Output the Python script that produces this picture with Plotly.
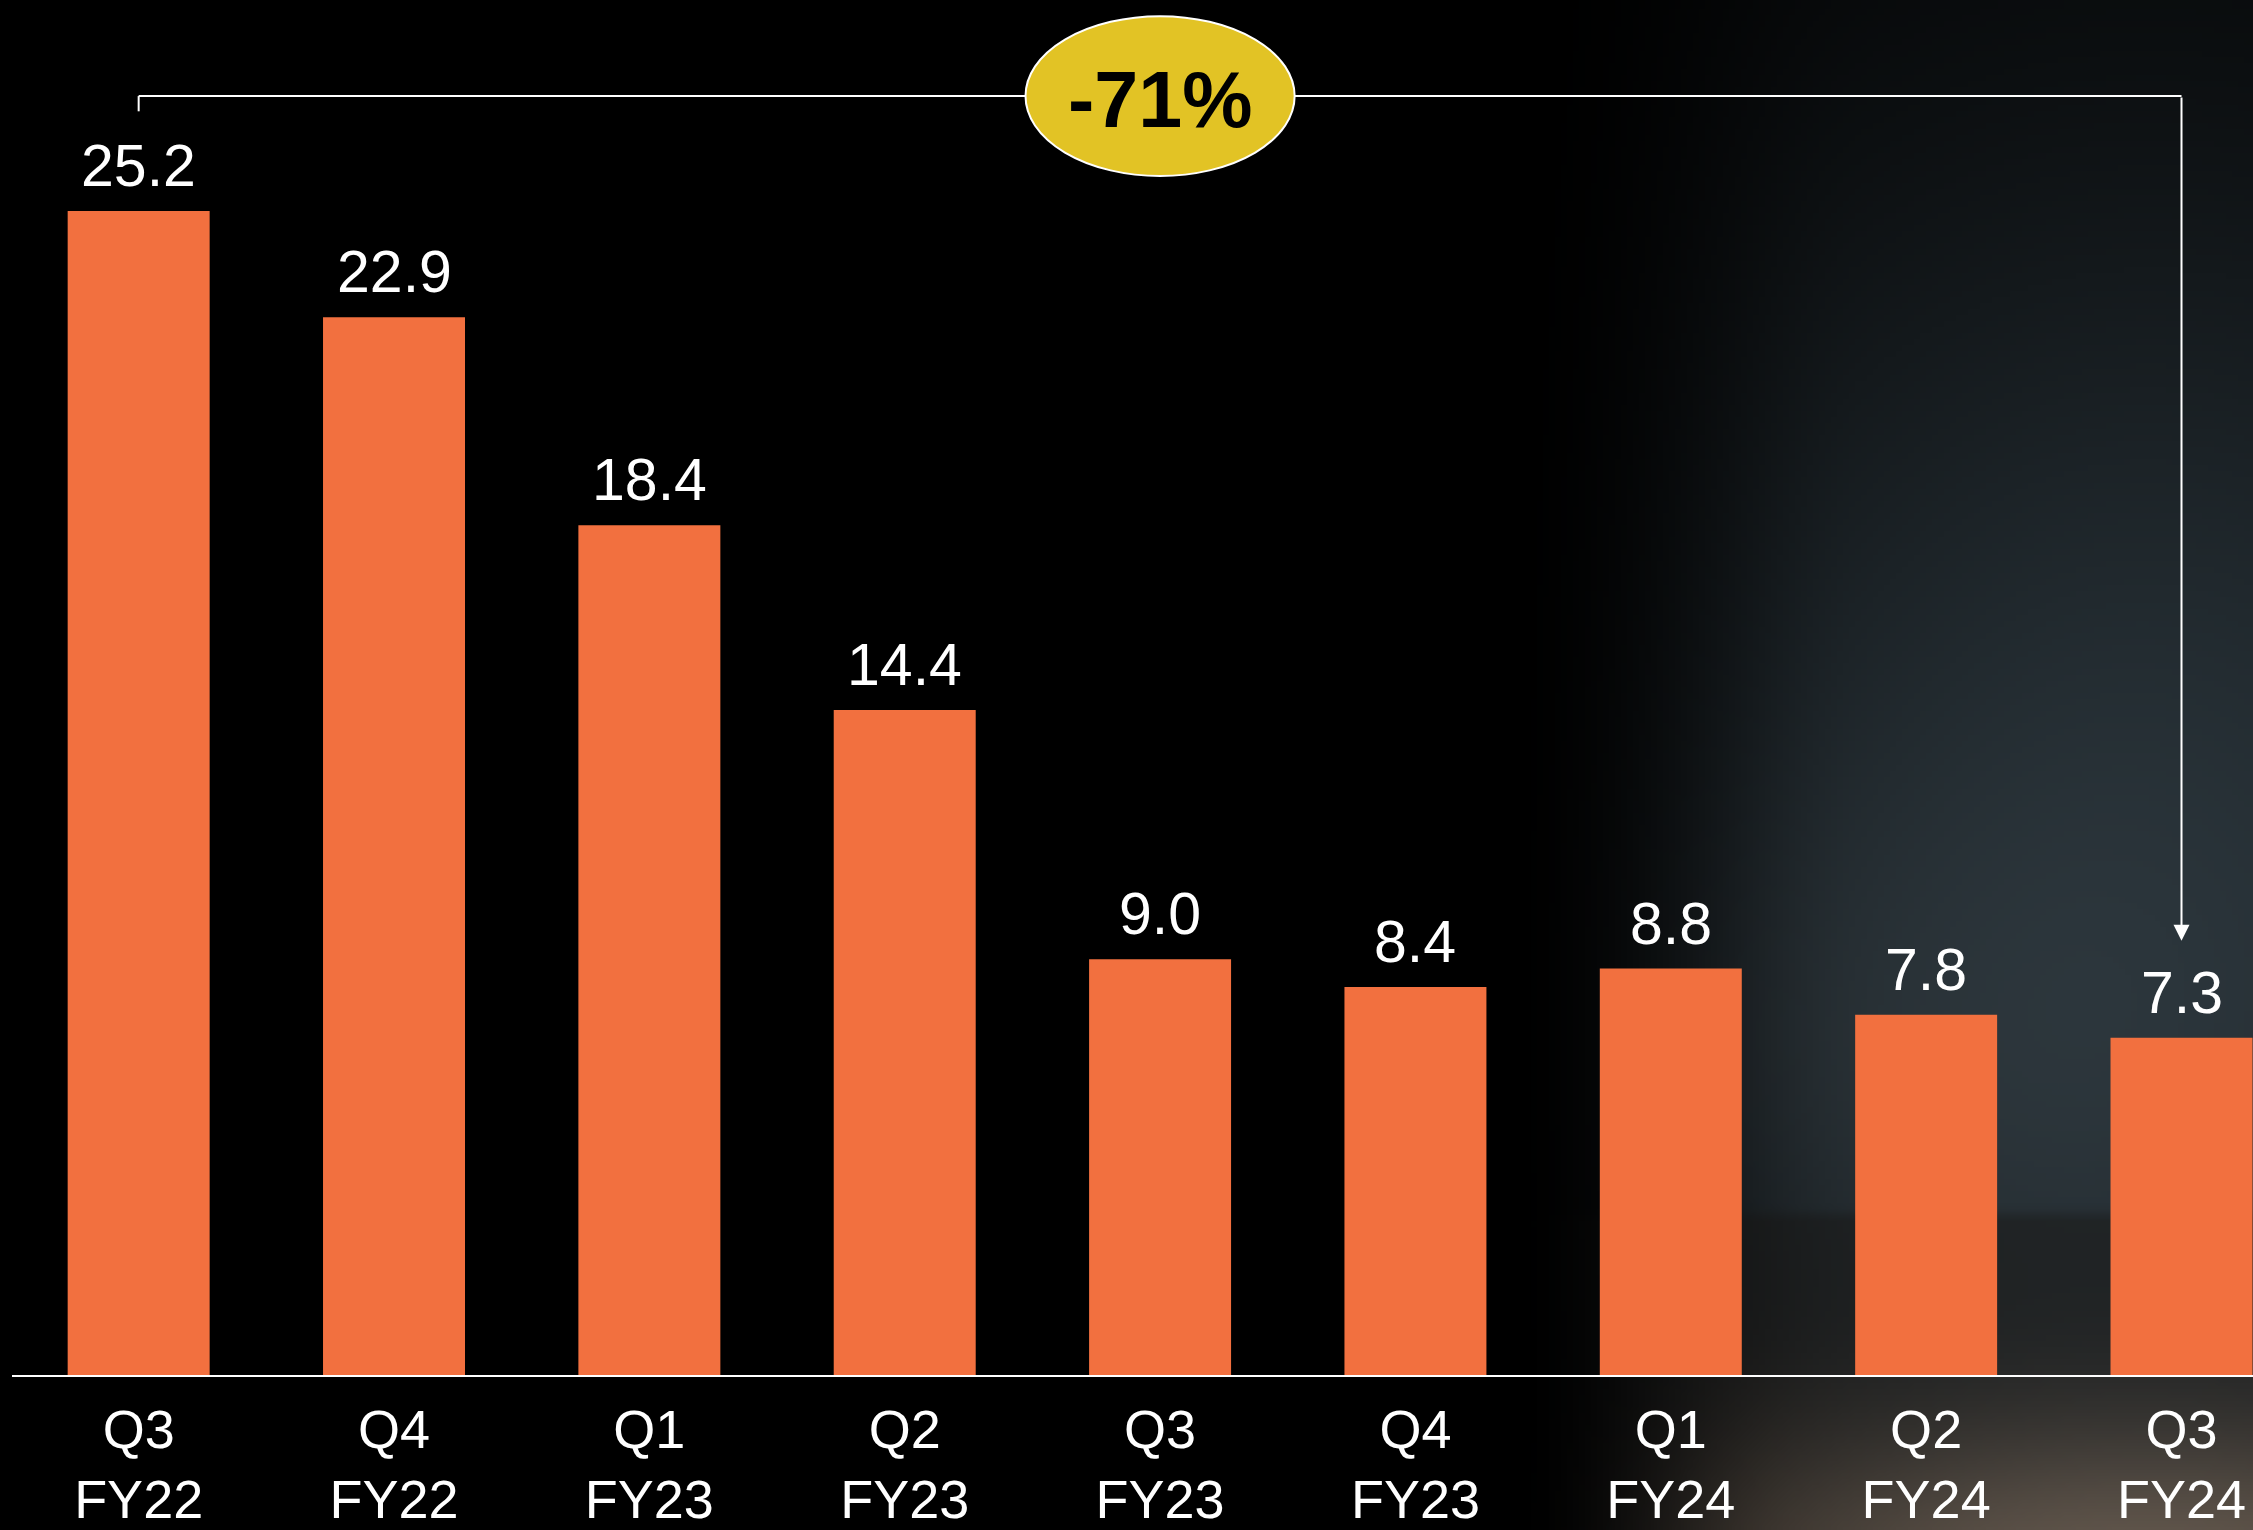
import base64
import struct
import zlib

import numpy as np
import plotly.graph_objects as go

# ---------------- data ----------------
quarters = ["Q3", "Q4", "Q1", "Q2", "Q3", "Q4", "Q1", "Q2", "Q3"]
fiscal_years = ["FY22", "FY22", "FY23", "FY23", "FY23", "FY23", "FY24", "FY24", "FY24"]
values = [25.2, 22.9, 18.4, 14.4, 9.0, 8.4, 8.8, 7.8, 7.3]
change_label = "-71%"

categories = [f"{q}<br>{fy}" for q, fy in zip(quarters, fiscal_years)]

# ---------------- layout constants ----------------
W, H = 2253, 1530
ML, MR, MT, MB = 12, 0, 0, 155
PLOT_W = W - ML - MR
PLOT_H = H - MT - MB
Y_MAX = 29.77
X_RANGE = [-0.496, 8.28]

BAR_COLOR = "#F2703F"
BADGE_COLOR = "#E2C325"
FONT = "Arial, Liberation Sans, Helvetica, sans-serif"

BRACKET_Y = 27.69
BRACKET_FOOT = 27.36
ARROW_TIP = 9.40
BADGE_HALF_W = 0.527
BADGE_HALF_H = 1.73


# ---------------- background picture (gradient) ----------------
def smoothstep(t):
    t = np.clip(t, 0.0, 1.0)
    return t * t * (3 - 2 * t)


def make_background(w=376, h=255):
    xs = (np.arange(w) + 0.5) * W / w
    ys = (np.arange(h) + 0.5) * H / h
    X, Y = np.meshgrid(xs, ys)
    g = np.exp(-1.2 * (((X - 2150) / 700) ** 2 + ((Y - 950) / 900) ** 2))
    ramp = smoothstep((X - 1480) / 380)
    col = (g * ramp)[..., None] * np.array([40.0, 50.0, 56.0])
    # faint neutral haze
    haze = np.exp(-(((X - 1850) / 380) ** 2 + ((Y - 1080) / 300) ** 2)) * smoothstep((X - 1500) / 300)
    col += haze[..., None] * np.array([8.0, 8.0, 8.0])
    # ground below the horizon
    mask = smoothstep((Y - 1205) / 18) * smoothstep((X - 1520) / 250)
    col = col * (1 - 0.45 * mask[..., None]) + mask[..., None] * np.array([10.0, 9.0, 8.0])
    # lit ground below the axis
    b = np.exp(-(((X - 2150) / 520) ** 2 + ((Y - 1580) / 160) ** 2)) * smoothstep((X - 1500) / 300)
    col += b[..., None] * np.array([78.0, 64.0, 52.0])
    return np.clip(col, 0, 255).astype(np.uint8)


def png_data_uri(arr):
    h, w, _ = arr.shape
    raw = b"".join(b"\x00" + arr[r].tobytes() for r in range(h))

    def chunk(tag, data):
        return (struct.pack(">I", len(data)) + tag + data
                + struct.pack(">I", zlib.crc32(tag + data) & 0xFFFFFFFF))

    png = (b"\x89PNG\r\n\x1a\n"
           + chunk(b"IHDR", struct.pack(">IIBBBBB", w, h, 8, 2, 0, 0, 0))
           + chunk(b"IDAT", zlib.compress(raw, 9))
           + chunk(b"IEND", b""))
    return "data:image/png;base64," + base64.b64encode(png).decode()


bg_uri = png_data_uri(make_background())

# ---------------- figure ----------------
fig = go.Figure()
fig.add_trace(go.Bar(
    x=categories,
    y=values,
    marker=dict(color=BAR_COLOR, line=dict(width=0)),
    hoverinfo="skip",
))

annotations = []
for c, v in zip(categories, values):
    annotations.append(dict(
        x=c, y=v, xref="x", yref="y", text=f"{v:.1f}", showarrow=False,
        yanchor="bottom", yshift=10,
        font=dict(family=FONT, size=59, color="white"),
    ))

first_i, last_i = 0, len(values) - 1
mid_i = (first_i + last_i) / 2

# arrow down to the last bar
annotations.append(dict(
    x=last_i, y=ARROW_TIP, xref="x", yref="y",
    ax=last_i, ay=BRACKET_Y, axref="x", ayref="y",
    text="", showarrow=True, arrowhead=2, arrowsize=1.6, arrowwidth=2,
    arrowcolor="white", standoff=0, startstandoff=0,
))
# badge text
annotations.append(dict(
    x=mid_i, y=BRACKET_Y, xref="x", yref="y", text=f"<b>{change_label}</b>",
    showarrow=False, yshift=-3,
    font=dict(family=FONT, size=79, color="black"),
))

shapes = [
    dict(type="line", xref="x", yref="y", x0=first_i, x1=first_i,
         y0=BRACKET_FOOT, y1=BRACKET_Y, line=dict(color="white", width=2)),
    dict(type="line", xref="x", yref="y", x0=first_i, x1=last_i,
         y0=BRACKET_Y, y1=BRACKET_Y, line=dict(color="white", width=2)),
    dict(type="circle", xref="x", yref="y",
         x0=mid_i - BADGE_HALF_W, x1=mid_i + BADGE_HALF_W,
         y0=BRACKET_Y - BADGE_HALF_H, y1=BRACKET_Y + BADGE_HALF_H,
         fillcolor=BADGE_COLOR, line=dict(color="white", width=2)),
]

fig.update_layout(
    width=W, height=H,
    margin=dict(l=ML, r=MR, t=MT, b=MB, pad=0),
    paper_bgcolor="black",
    plot_bgcolor="rgba(0,0,0,0)",
    bargap=0.444,
    showlegend=False,
    annotations=annotations,
    shapes=shapes,
    images=[dict(
        source=bg_uri, xref="paper", yref="paper",
        x=-ML / PLOT_W, y=1 + MT / PLOT_H,
        sizex=W / PLOT_W, sizey=H / PLOT_H,
        xanchor="left", yanchor="top", sizing="stretch", layer="below",
    )],
    xaxis=dict(
        type="category", range=X_RANGE, showgrid=False, zeroline=False,
        showline=True, linecolor="white", linewidth=2, ticks="",
        ticklabelstandoff=6,
        tickfont=dict(family=FONT, size=54, color="white"),
    ),
    yaxis=dict(
        range=[0, Y_MAX], visible=False, showgrid=False, zeroline=False,
    ),
)

fig.write_html(
    "out.html",
    config={"displayModeBar": False},
    post_script="document.body.style.margin='0';document.body.style.overflow='hidden';",
)
